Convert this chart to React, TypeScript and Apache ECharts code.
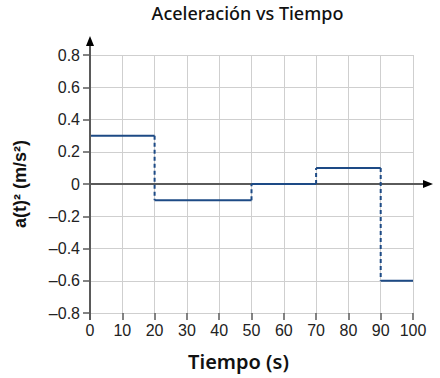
import React, { useEffect, useRef } from "react";
import * as echarts from "echarts";

const times = [0, 20, 50, 70, 90, 100];
const accel = [0.3, -0.1, 0, 0.1, -0.6];
const xTicks = [0, 10, 20, 30, 40, 50, 60, 70, 80, 90, 100];
const yTicks = [-0.8, -0.6, -0.4, -0.2, 0, 0.2, 0.4, 0.6, 0.8];
const titleText = "Aceleración vs Tiempo";
const xName = "Tiempo (s)";
const yName = "a(t)² (m/s²)";

const LINE = "#1d4a85";
const AXIS = "#5a5a5a";

function fmt(v: number) {
  if (v === 0) return "0";
  const s = Math.abs(v).toFixed(1);
  return (v < 0 ? "\u2013" : "") + s;
}

export default function App() {
  const ref = useRef<HTMLDivElement>(null);
  useEffect(() => {
    if (!ref.current) return;
    const chart = echarts.init(ref.current, null, { renderer: "svg" });
    const series: any[] = [];
    for (let i = 0; i < accel.length; i++) {
      series.push({
        type: "line",
        data: [
          [times[i], accel[i]],
          [times[i + 1], accel[i]],
        ],
        symbol: "none",
        lineStyle: { color: LINE, width: 2 },
        z: 5,
      });
      if (i < accel.length - 1) {
        series.push({
          type: "line",
          data: [
            [times[i + 1], accel[i]],
            [times[i + 1], accel[i + 1]],
          ],
          symbol: "none",
          lineStyle: { color: LINE, width: 2, type: [4, 3] },
          z: 5,
        });
      }
    }
    const tickFont = { fontFamily: "Liberation Sans, Arial", fontSize: 16, color: "#222" };
    chart.setOption({
      animation: false,
      grid: { left: 90, right: 27, top: 55, bottom: 65, containLabel: false },
      xAxis: {
        type: "value",
        min: xTicks[0],
        max: xTicks[xTicks.length - 1],
        interval: 10,
        axisLine: { show: false, onZero: false },
        axisTick: { show: true, length: 7, lineStyle: { color: AXIS, width: 1.5 } },
        axisLabel: { ...tickFont, margin: 9, formatter: (v: number) => String(v) },
        splitLine: { show: true, lineStyle: { color: "#cfcfcf", width: 1 } },
      },
      yAxis: {
        type: "value",
        min: yTicks[0],
        max: yTicks[yTicks.length - 1],
        interval: 0.2,
        axisLine: { show: false, onZero: false },
        axisTick: { show: true, length: 7, lineStyle: { color: AXIS, width: 1.5 } },
        axisLabel: { ...tickFont, margin: 10, formatter: (v: number) => fmt(Math.round(v * 10) / 10) },
        splitLine: { show: true, lineStyle: { color: "#cfcfcf", width: 1 } },
      },
      series,
    });

    const o = chart.convertToPixel({ gridIndex: 0 }, [0, 0]) as number[];
    const top = chart.convertToPixel({ gridIndex: 0 }, [0, yTicks[yTicks.length - 1]]) as number[];
    const bot = chart.convertToPixel({ gridIndex: 0 }, [0, yTicks[0]]) as number[];
    const right = chart.convertToPixel({ gridIndex: 0 }, [xTicks[xTicks.length - 1], 0]) as number[];
    const x0 = o[0];
    const y0 = o[1];
    const yTipY = top[1] - 19;
    const xTipX = right[0] + 20;
    const midX = (x0 + right[0]) / 2;
    const midY = (top[1] + bot[1]) / 2;

    chart.setOption({
      graphic: [
        {
          type: "line",
          shape: { x1: x0, y1: bot[1] + 7, x2: x0, y2: yTipY + 8 },
          style: { stroke: AXIS, lineWidth: 2 },
          z: 10,
        },
        {
          type: "polygon",
          shape: { points: [[x0, yTipY], [x0 - 4, yTipY + 10], [x0 + 4, yTipY + 10]] },
          style: { fill: "#000" },
          z: 10,
        },
        {
          type: "line",
          shape: { x1: x0, y1: y0, x2: xTipX - 8, y2: y0 },
          style: { stroke: AXIS, lineWidth: 2 },
          z: 3,
        },
        {
          type: "polygon",
          shape: { points: [[xTipX, y0], [xTipX - 10, y0 - 4], [xTipX - 10, y0 + 4]] },
          style: { fill: "#000" },
          z: 10,
        },
        {
          type: "text",
          x: midX - 4,
          y: 13,
          style: {
            text: titleText,
            fontFamily: "Noto Sans",
            fontWeight: 500,
            fontSize: 18,
            fill: "#111",
            align: "center",
            verticalAlign: "middle",
          },
        },
        {
          type: "text",
          x: midX - 13,
          y: 361,
          style: {
            text: xName,
            fontFamily: "Noto Sans",
            fontWeight: 600,
            fontSize: 20,
            fill: "#111",
            align: "center",
            verticalAlign: "middle",
          },
        },
        {
          type: "text",
          x: 20,
          y: midY,
          rotation: Math.PI / 2,
          style: {
            text: yName,
            fontFamily: "Liberation Sans, Arial",
            fontWeight: "bold",
            fontSize: 18,
            fill: "#111",
            align: "center",
            verticalAlign: "middle",
          },
        },
      ],
    });
    return () => chart.dispose();
  }, []);
  return <div ref={ref} style={{ width: 440, height: 378, position: "absolute", left: 0, top: 0 }} />;
}
